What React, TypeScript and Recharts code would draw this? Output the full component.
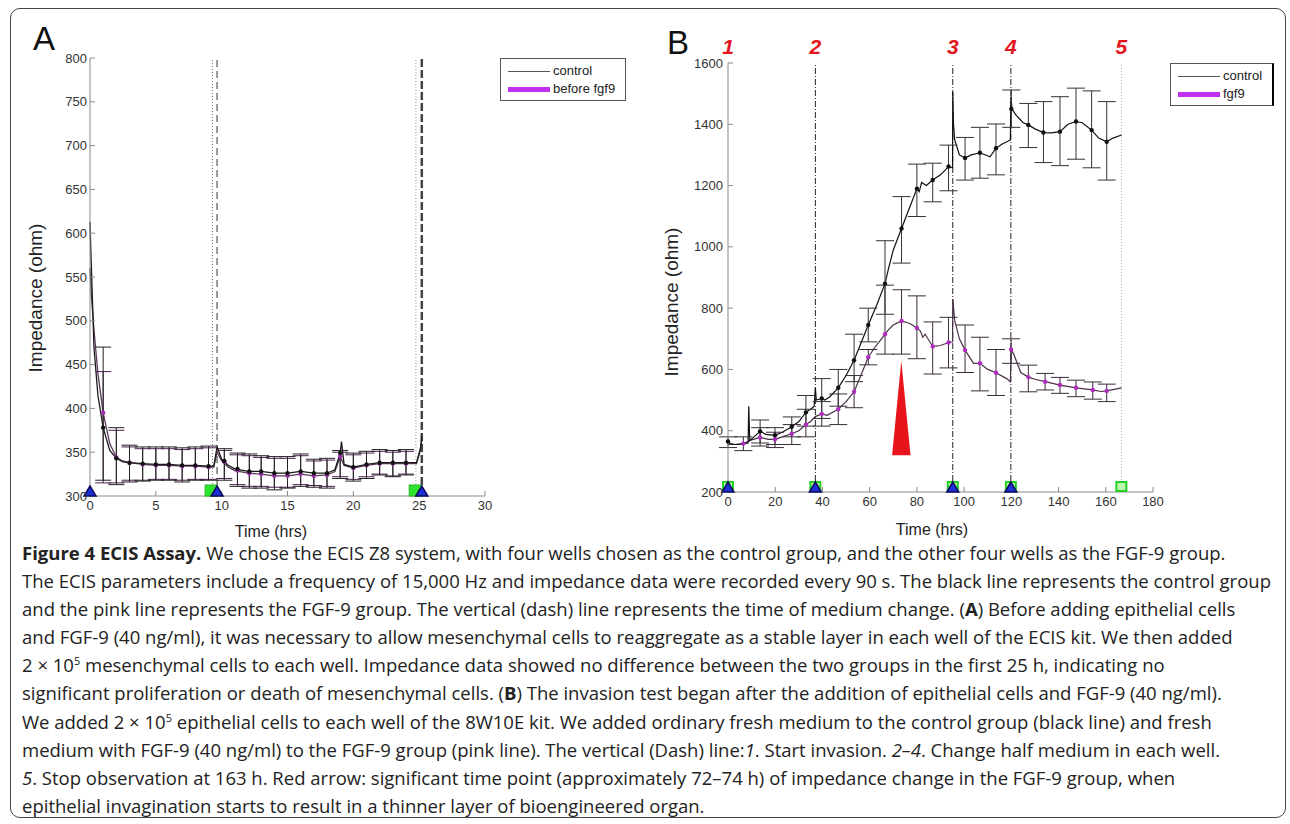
import React from 'react'
import {
  ComposedChart,
  Line,
  Scatter,
  XAxis,
  YAxis,
  ErrorBar,
  ReferenceLine,
  ReferenceArea,
} from 'recharts'

// ---------- panel A: mesenchymal layer, 0-25 h ----------
const aCtrlTime = [0, 0.05, 0.3, 0.6, 1, 1.5, 2, 2.5, 3, 4, 5, 6, 7, 8, 9, 9.4, 9.65, 10, 10.5, 11, 12, 13, 14, 15, 16, 17, 18, 18.6, 19, 19.1, 19.3, 20, 21, 22, 23, 24, 24.8, 25.1, 25.2]
const aCtrlImp = [613, 587, 470, 415, 378, 352, 343, 339, 338, 337, 336, 336, 335, 335, 334, 334, 356, 342, 335, 331, 328, 328, 326, 326, 328, 326, 326, 330, 349, 362, 336, 333, 336, 338, 338, 338, 338, 355, 368]

const aFgfTime = [0, 0.1, 0.3, 0.6, 1, 1.5, 2, 2.5, 3, 4, 5, 6, 7, 8, 9, 9.4, 9.65, 10, 10.5, 11, 12, 13, 14, 15, 16, 17, 18, 18.6, 19, 19.3, 20, 21, 22, 23, 24, 24.8, 25.1, 25.2]
const aFgfImp = [560, 530, 490, 440, 395, 360, 344, 340, 338, 336, 335, 335, 334, 334, 333, 333, 350, 340, 333, 329, 326, 325, 323, 323, 325, 323, 324, 328, 345, 335, 332, 335, 337, 337, 337, 337, 352, 365]

const aErrTime = [1, 2, 3, 4, 5, 6, 7, 8, 9, 10.2, 11.2, 12.1, 13, 14, 15, 16, 17, 18, 19, 20, 21, 22, 23, 24]
const aCtrlMean = [378, 343, 338, 337, 336, 336, 335, 335, 334, 340, 331, 328, 328, 326, 326, 328, 326, 326, 349, 333, 336, 338, 338, 338]
const aCtrlLo = [318, 313, 316, 317, 318, 318, 316, 318, 318, 318, 311, 309, 309, 307, 309, 311, 310, 309, 320, 317, 320, 324, 322, 324]
const aCtrlHi = [470, 378, 358, 356, 356, 356, 355, 356, 357, 354, 349, 348, 346, 345, 345, 348, 342, 343, 352, 349, 351, 353, 352, 353]
const aFgfMean = [395, 344, 338, 336, 335, 335, 334, 334, 333, 339, 329, 326, 325, 323, 323, 325, 323, 324, 345, 332, 335, 337, 337, 337]
const aFgfLo = [315, 315, 318, 318, 319, 319, 318, 319, 319, 320, 313, 311, 311, 310, 310, 313, 312, 311, 322, 319, 322, 325, 323, 325]
const aFgfHi = [442, 375, 356, 354, 354, 354, 353, 354, 355, 352, 347, 346, 344, 343, 343, 346, 340, 341, 350, 347, 349, 351, 350, 351]

const aTriTime = [0, 9.65, 25.2]
const aSqTime = [9.2, 24.7]
const aTimeTicks = [0, 5, 10, 15, 20, 25, 30]
const aImpTicks = [300, 350, 400, 450, 500, 550, 600, 650, 700, 750, 800]

// ---------- panel B: invasion, 0-166 h ----------
const bCtrlTime = [0, 1, 3, 6, 8.5, 8.8, 9.2, 11, 13.6, 16, 19.9, 23, 27, 30, 33, 35, 36.5, 37, 37.4, 39.7, 41, 43, 46.7, 50, 53.4, 56, 59.4, 63, 66.5, 68, 70, 73.5, 77, 80, 81, 82, 84, 86.7, 90, 93.4, 95.1, 95.2, 95.5, 96, 98, 100.4, 103, 106.7, 111, 113.5, 116, 119.6, 119.8, 120.3, 122, 125, 127.2, 130, 133.6, 137, 140.6, 144, 147.4, 150, 154, 157, 160.4, 163, 166.7]
const bCtrlImp = [365, 358, 355, 356, 360, 480, 368, 380, 398, 388, 385, 395, 413, 430, 460, 470, 480, 540, 500, 505, 500, 510, 540, 580, 630, 680, 745, 810, 880, 930, 990, 1060, 1130, 1190, 1180, 1210, 1200, 1218, 1235, 1262, 1258, 1505, 1400, 1350, 1300, 1290, 1300, 1307, 1294, 1322, 1335, 1349, 1490, 1450, 1430, 1405, 1398, 1385, 1373, 1372, 1376, 1400, 1409, 1405, 1381, 1355, 1343, 1355, 1365]

const bFgfTime = [0, 3, 6.5, 10, 13.6, 17, 19.9, 23, 27, 30, 33, 35, 37, 39.7, 42, 46.7, 50, 53.4, 56, 59.4, 62, 65, 66.5, 68, 70, 73.5, 77, 80, 81.5, 82.5, 83.5, 86.7, 90, 93.4, 95.1, 95.2, 96, 98, 100.4, 104, 106.7, 110, 113.5, 118, 119.6, 119.9, 121, 124, 127.2, 130, 134.3, 140.6, 147.4, 154.5, 158, 160.4, 166.7]
const bFgfImp = [355, 355, 358, 370, 378, 372, 372, 380, 390, 400, 420, 430, 446, 455, 450, 470, 495, 527, 575, 640, 670, 700, 715, 730, 745, 758, 750, 735, 725, 705, 715, 675, 678, 688, 690, 830, 760, 700, 663, 620, 620, 600, 589, 570, 560, 665, 650, 590, 575, 568, 560, 549, 540, 533, 528, 530, 540]

const bCtrlErrTime = [0, 13.6, 19.9, 27, 33, 39.7, 46.7, 53.4, 59.4, 66.5, 73.5, 80, 86.7, 93.4, 100.4, 106.7, 113.5, 120, 127.2, 133.6, 140.6, 147.4, 154, 160.4]
const bCtrlMean = [365, 398, 385, 413, 460, 505, 540, 630, 745, 880, 1060, 1190, 1218, 1262, 1290, 1307, 1322, 1450, 1398, 1373, 1376, 1409, 1381, 1343]
const bCtrlLo = [345, 360, 355, 380, 415, 440, 480, 560, 690, 780, 947, 1099, 1147, 1183, 1218, 1224, 1235, 1390, 1324, 1275, 1265, 1286, 1258, 1218]
const bCtrlHi = [380, 435, 410, 445, 515, 570, 600, 715, 800, 1020, 1164, 1270, 1273, 1332, 1357, 1390, 1401, 1512, 1468, 1474, 1490, 1518, 1509, 1474]

const bFgfErrTime = [6.5, 13.6, 19.9, 27, 33, 39.7, 46.7, 53.4, 59.4, 66.5, 73.5, 80, 86.7, 93.4, 100.4, 106.7, 113.5, 119.9, 127.2, 134.3, 140.6, 147.4, 154.5, 160.4]
const bFgfMean = [358, 378, 372, 390, 420, 455, 470, 527, 640, 715, 758, 735, 675, 688, 663, 620, 589, 665, 575, 560, 549, 540, 533, 530]
const bFgfLo = [335, 350, 345, 355, 380, 415, 420, 475, 615, 650, 650, 635, 585, 605, 590, 530, 515, 620, 527, 533, 522, 511, 503, 495]
const bFgfHi = [380, 410, 395, 420, 470, 495, 520, 580, 665, 875, 860, 840, 755, 770, 745, 705, 665, 700, 614, 587, 574, 565, 559, 552]

const bEventTime = [0, 37, 95.2, 119.8, 166.6]
const bEventLabel = ['1', '2', '3', '4', '5']
const bTriTime = [0, 37, 95.2, 119.8]
const bSqTime = [0, 37, 95.2, 119.8, 166.6]
const bArrowTime = [69.5, 77.3]
const bArrowImp = [320, 628]
const bTimeTicks = [0, 20, 40, 60, 80, 100, 120, 140, 160, 180]
const bImpTicks = [200, 400, 600, 800, 1000, 1200, 1400, 1600]

// ---------- helpers ----------
const toPoints = (time: number[], imp: number[]) => time.map((t, i) => ({ t, v: imp[i] }))
const toErr = (time: number[], mean: number[], lo: number[], hi: number[]) =>
  time.map((t, i) => ({ t, v: mean[i], err: [mean[i] - lo[i], hi[i] - mean[i]] }))
const onAxis = (time: number[], base: number) => time.map((t) => ({ t, v: base }))

const FONT = '"Liberation Sans", Arial, sans-serif'
const tickStyle = { fill: '#333', fontSize: 13, fontFamily: FONT }
const axisLine = { stroke: '#8a8a8a', strokeWidth: 1 }
const tickLine = { stroke: '#8a8a8a' }

const smallDot = (p: any) => <circle cx={p.cx} cy={p.cy} r={2.2} fill={p.fill} />
const triangle = (p: any) => (
  <polygon
    points={`${p.cx - 6},${p.cy} ${p.cx + 6},${p.cy} ${p.cx},${p.cy - 10}`}
    fill="#1c2fd8"
    stroke="#0b0b5c"
    strokeWidth={1.5}
  />
)
const squareFull = (p: any) => (
  <rect x={p.cx - 6} y={p.cy - 11} width={12} height={11} fill="#2fe42f" stroke="#1fb81f" />
)
const squareOpen = (p: any) => (
  <rect x={p.cx - 5} y={p.cy - 10} width={10} height={9} fill="#b8f8b0" stroke="#25d025" strokeWidth={2} />
)
const redArrow = (p: any) => (
  <polygon
    points={`${p.x},${p.y + p.height} ${p.x + p.width},${p.y + p.height} ${p.x + p.width / 2},${p.y}`}
    fill="#e8141c"
  />
)

function PanelA() {
  const ctrl = toPoints(aCtrlTime, aCtrlImp)
  const fgf = toPoints(aFgfTime, aFgfImp)
  return (
    <ComposedChart width={640} height={550} margin={{ top: 58, right: 155, bottom: 24, left: 40 }}>
      <XAxis type="number" dataKey="t" domain={[0, 30]} ticks={aTimeTicks} height={30}
        axisLine={axisLine} tickLine={tickLine} tickSize={-5} tickMargin={10} tick={tickStyle} />
      <XAxis xAxisId="top" orientation="top" type="number" dataKey="t" domain={[0, 30]} ticks={aTimeTicks}
        height={0} axisLine={axisLine} tickLine={tickLine} tickSize={-5} tick={false} />
      <YAxis type="number" domain={[300, 800]} ticks={aImpTicks} width={50}
        axisLine={axisLine} tickLine={tickLine} tickSize={-5} tickMargin={8} tick={tickStyle} />
      <YAxis yAxisId="r" orientation="right" type="number" domain={[300, 800]} ticks={aImpTicks} width={0}
        axisLine={axisLine} tickLine={tickLine} tickSize={-5} tick={false} />

      <ReferenceLine x={9.3} stroke="#777" strokeDasharray="1 2" />
      <ReferenceLine x={9.65} stroke="#555" strokeDasharray="7 4" strokeWidth={1.2} />
      <ReferenceLine x={24.75} stroke="#999" strokeDasharray="1 2" />
      <ReferenceLine x={25.2} stroke="#444" strokeDasharray="8 3" strokeWidth={2.5} />

      <Line data={fgf} dataKey="v" stroke="#5a3a5a" strokeWidth={1.3} dot={false} isAnimationActive={false} />
      <Line data={ctrl} dataKey="v" stroke="#1a1a1a" strokeWidth={1.3} dot={false} isAnimationActive={false} />

      <Scatter data={toErr(aErrTime, aFgfMean, aFgfLo, aFgfHi)} dataKey="v" fill="#a02cb0" shape={smallDot} isAnimationActive={false}>
        <ErrorBar dataKey="err" direction="y" width={8} stroke="#4b2150" strokeWidth={1} />
      </Scatter>
      <Scatter data={toErr(aErrTime, aCtrlMean, aCtrlLo, aCtrlHi)} dataKey="v" fill="#111" shape={smallDot} isAnimationActive={false}>
        <ErrorBar dataKey="err" direction="y" width={8} stroke="#222" strokeWidth={1} />
      </Scatter>

      <Scatter data={onAxis(aSqTime, 300)} dataKey="v" shape={squareFull} isAnimationActive={false} />
      <Scatter data={onAxis(aTriTime, 300)} dataKey="v" shape={triangle} isAnimationActive={false} />
    </ComposedChart>
  )
}

function PanelB() {
  const ctrl = toPoints(bCtrlTime, bCtrlImp)
  const fgf = toPoints(bFgfTime, bFgfImp)
  return (
    <ComposedChart width={650} height={550} margin={{ top: 63, right: 137, bottom: 28, left: 38 }}>
      <XAxis type="number" dataKey="t" domain={[0, 180]} ticks={bTimeTicks} height={30}
        axisLine={axisLine} tickLine={tickLine} tickSize={-5} tickMargin={10} tick={tickStyle} />
      <XAxis xAxisId="top" orientation="top" type="number" dataKey="t" domain={[0, 180]} ticks={bTimeTicks}
        height={0} axisLine={axisLine} tickLine={tickLine} tickSize={-5} tick={false} />
      <YAxis type="number" domain={[200, 1600]} ticks={bImpTicks} width={50}
        axisLine={axisLine} tickLine={tickLine} tickSize={-5} tickMargin={10} tick={tickStyle} />
      <YAxis yAxisId="r" orientation="right" type="number" domain={[200, 1600]} ticks={bImpTicks} width={0}
        axisLine={axisLine} tickLine={tickLine} tickSize={-5} tick={false} />

      {bEventTime.map((t, i) => (
        <ReferenceLine
          key={t}
          x={t}
          stroke={i === 0 ? 'none' : i === 4 ? '#aaa' : '#222'}
          strokeDasharray={i === 4 ? '1 2' : '6 2 1 2'}
          label={{
            value: bEventLabel[i],
            position: 'top',
            offset: 9,
            fill: '#e3161c',
            fontSize: 21,
            fontWeight: 'bold',
            fontStyle: 'italic',
            fontFamily: FONT,
          }}
        />
      ))}

      <ReferenceArea x1={bArrowTime[0]} x2={bArrowTime[1]} y1={bArrowImp[0]} y2={bArrowImp[1]} shape={redArrow} />

      <Line data={fgf} dataKey="v" stroke="#4a3048" strokeWidth={1.2} dot={false} isAnimationActive={false} />
      <Line data={ctrl} dataKey="v" stroke="#111" strokeWidth={1.2} dot={false} isAnimationActive={false} />

      <Scatter data={toErr(bFgfErrTime, bFgfMean, bFgfLo, bFgfHi)} dataKey="v" fill="#b02cc0" shape={smallDot} isAnimationActive={false}>
        <ErrorBar dataKey="err" direction="y" width={9} stroke="#3a2a3a" strokeWidth={1} />
      </Scatter>
      <Scatter data={toErr(bCtrlErrTime, bCtrlMean, bCtrlLo, bCtrlHi)} dataKey="v" fill="#111" shape={smallDot} isAnimationActive={false}>
        <ErrorBar dataKey="err" direction="y" width={9} stroke="#333" strokeWidth={1} />
      </Scatter>

      <Scatter data={onAxis(bSqTime, 200)} dataKey="v" shape={squareOpen} isAnimationActive={false} />
      <Scatter data={onAxis(bTriTime, 200)} dataKey="v" shape={triangle} isAnimationActive={false} />
    </ComposedChart>
  )
}

const abs = (left: number, top: number, extra: React.CSSProperties = {}): React.CSSProperties => ({
  position: 'absolute',
  left,
  top,
  ...extra,
})

function LegendBox(props: { left: number; top: number; width: number; height: number; second: string; thickRight?: boolean }) {
  const { left, top, width, height, second, thickRight } = props
  return (
    <div
      style={abs(left, top, {
        width,
        height,
        border: '1px solid #555',
        borderRight: thickRight ? '2px solid #000' : '1px solid #555',
        boxSizing: 'border-box',
        background: '#fff',
        fontFamily: FONT,
        fontSize: 13,
        color: '#222',
      })}
    >
      <div style={abs(7, 12, { width: 42, height: 1, background: '#555' })} />
      <div style={abs(52, 4, { lineHeight: '16px' })}>control</div>
      <div style={abs(7, 28, { width: 42, height: 5, background: '#c030f0' })} />
      <div style={abs(52, 22, { lineHeight: '16px' })}>{second}</div>
    </div>
  )
}

const rotLabel = (x: number, y: number, text: string) => (
  <div
    style={abs(x, y, {
      transform: 'translate(-50%, -50%) rotate(-90deg)',
      fontFamily: FONT,
      fontSize: 19,
      color: '#222',
      whiteSpace: 'nowrap',
    })}
  >
    {text}
  </div>
)
const xLabel = (x: number, y: number, text: string) => (
  <div style={abs(x, y, { transform: 'translate(-50%, -50%)', fontFamily: FONT, fontSize: 16, color: '#222', whiteSpace: 'nowrap' })}>
    {text}
  </div>
)

const sup = (s: string) => <sup style={{ fontSize: 11, lineHeight: 0 }}>{s}</sup>

const captionLines: React.ReactNode[] = [
  <>
    <b>Figure 4 ECIS Assay.</b> We chose the ECIS Z8 system, with four wells chosen as the control group, and the other four wells as the FGF-9 group.
  </>,
  <>The ECIS parameters include a frequency of 15,000 Hz and impedance data were recorded every 90 s. The black line represents the control group</>,
  <>
    and the pink line represents the FGF-9 group. The vertical (dash) line represents the time of medium change. (<b>A</b>) Before adding epithelial cells
  </>,
  <>and FGF-9 (40 ng/ml), it was necessary to allow mesenchymal cells to reaggregate as a stable layer in each well of the ECIS kit. We then added</>,
  <>
    2 × 10{sup('5')} mesenchymal cells to each well. Impedance data showed no difference between the two groups in the first 25 h, indicating no
  </>,
  <>
    significant proliferation or death of mesenchymal cells. (<b>B</b>) The invasion test began after the addition of epithelial cells and FGF-9 (40 ng/ml).
  </>,
  <>
    We added 2 × 10{sup('5')} epithelial cells to each well of the 8W10E kit. We added ordinary fresh medium to the control group (black line) and fresh
  </>,
  <>
    medium with FGF-9 (40 ng/ml) to the FGF-9 group (pink line). The vertical (Dash) line:<i>1</i>. Start invasion. <i>2–4</i>. Change half medium in each well.
  </>,
  <>
    <i>5</i>. Stop observation at 163 h. Red arrow: significant time point (approximately 72–74 h) of impedance change in the FGF-9 group, when
  </>,
  <>epithelial invagination starts to result in a thinner layer of bioengineered organ.</>,
]

export default function App() {
  return (
    <div style={abs(0, 0, { width: 1290, height: 824, background: '#fff', overflow: 'hidden' })}>
      <div
        style={abs(10, 8, {
          width: 1276,
          height: 810,
          border: '1.5px solid #444',
          borderRadius: 10,
          boxSizing: 'border-box',
        })}
      />
      <div style={abs(0, 0)}>
        <PanelA />
      </div>
      <div style={abs(640, 0)}>
        <PanelB />
      </div>

      <div style={abs(33, 20, { fontFamily: FONT, fontSize: 33, color: '#111' })}>A</div>
      <div style={abs(667, 24, { fontFamily: FONT, fontSize: 33, color: '#111' })}>B</div>

      {rotLabel(36, 298, 'Impedance (ohm)')}
      {rotLabel(672, 302, 'Impedance (ohm)')}
      {xLabel(271, 532, 'Time (hrs)')}
      {xLabel(932, 530, 'Time (hrs)')}

      <LegendBox left={500} top={58} width={126} height={43} second="before fgf9" />
      <LegendBox left={1170} top={63} width={104} height={43} second="fgf9" thickRight />

      <div
        style={abs(22, 539, {
          fontFamily: '"Open Sans", "Noto Sans", sans-serif',
          fontSize: 18.5,
          lineHeight: '28.1px',
          color: '#222',
          whiteSpace: 'nowrap',
        })}
      >
        {captionLines.map((l, i) => (
          <div key={i}>{l}</div>
        ))}
      </div>
    </div>
  )
}
